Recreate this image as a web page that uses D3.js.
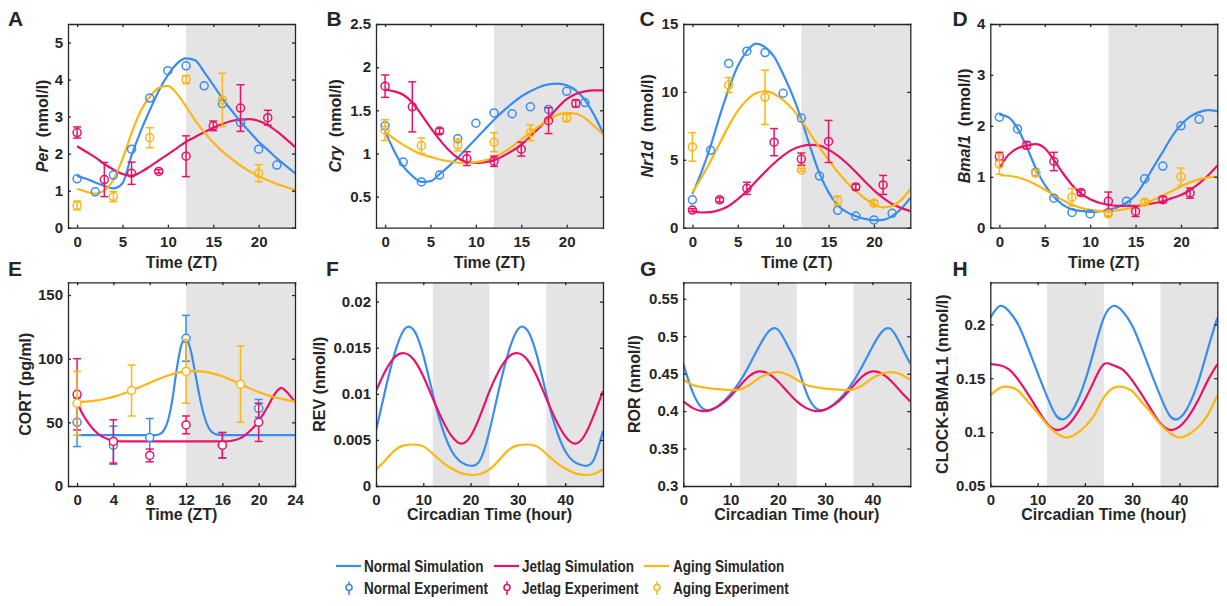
<!DOCTYPE html>
<html><head><meta charset="utf-8">
<script src="https://cdn.jsdelivr.net/npm/d3@7"></script>
<style>
body{margin:0;background:#fff}
svg{display:block}
text{font-family:Arial,"Liberation Sans",Helvetica,sans-serif;font-weight:bold;fill:#262626}
</style>
</head><body>
<svg id="chart" width="1227" height="606"></svg>
<script>
// ---------------- DATA ----------------
const hoursDay = [0,1,2,3,4,5,6,7,8,9,10,11,12,13,14,15,16,17,18,19,20,21,22,23,24];
const hoursTwoDays = [0,2,4,6,8,10,12,14,16,18,20,22,24,26,28,30,32,34,36,38,40,42,44,46,48];
const cortHalfHours = [0,0.5,1,1.5,2,2.5,3,3.5,4,4.5,5,5.5,6,6.5,7,7.5,8,8.5,9,9.5,10,10.5,11,11.5,12,12.5,13,13.5,14,14.5,15,15.5,16,16.5,17,17.5,18,18.5,19,19.5,20,20.5,21,21.5,22,22.5,23,23.5,24];

// tick values
const dayTicks = [0,5,10,15,20];
const cortTimeTicks = [0,4,8,12,16,20,24];
const circadianTicks = [0,10,20,30,40];
const perTicks = [0,1,2,3,4,5];
const cryTicks = [0.5,1,1.5,2,2.5];
const nr1dTicks = [0,5,10,15];
const bmalTicks = [0,1,2,3,4];
const cortTicks = [0,50,100,150];
const revTicks = [0,0.005,0.01,0.015,0.02];
const rorTicks = [0.3,0.35,0.4,0.45,0.5,0.55];
const clockTicks = [0.05,0.1,0.15,0.2];

// A: Per
const perNormalSim = [1.40,1.32,1.22,1.13,1.06,1.20,1.95,2.60,3.17,3.70,4.12,4.43,4.57,4.52,4.20,3.85,3.49,3.17,2.86,2.59,2.32,2.10,1.87,1.67,1.47];
const perJetlagSim = [2.20,2.05,1.90,1.72,1.57,1.45,1.40,1.50,1.65,1.82,1.98,2.15,2.32,2.45,2.58,2.70,2.80,2.88,2.92,2.93,2.88,2.77,2.60,2.40,2.18];
const perAgingSim  = [1.05,0.97,0.92,1.00,1.30,1.85,2.55,3.15,3.53,3.78,3.83,3.62,3.27,2.90,2.58,2.30,2.06,1.86,1.68,1.52,1.39,1.28,1.18,1.10,1.02];
const perNormalExpT = [0,2,4,6,8,10,12,14,16,18,20,22];
const perNormalExpV = [1.32,0.97,1.42,2.12,3.50,4.24,4.37,3.83,3.35,2.84,2.12,1.69];
const perJetlagExpT = [0,3,6,9,12,15,18,21];
const perJetlagExpV = [2.57,1.30,1.47,1.52,1.93,2.75,3.23,2.97];
const perJetlagExpE = [0.15,0.46,0.30,0.05,0.55,0.13,0.63,0.20];
const perAgingExpT = [0,4,8,12,16,20];
const perAgingExpV = [0.60,0.84,2.43,4.00,3.45,1.47];
const perAgingExpE = [0.12,0.14,0.27,0.11,0.72,0.23];

// B: Cry
const cryNormalSim = [1.26,1.03,0.85,0.74,0.67,0.68,0.76,0.85,0.95,1.06,1.17,1.28,1.39,1.49,1.58,1.66,1.72,1.77,1.80,1.81,1.79,1.73,1.62,1.45,1.24];
const cryJetlagSim = [1.74,1.72,1.68,1.59,1.45,1.30,1.16,1.04,0.95,0.90,0.89,0.90,0.92,0.97,1.03,1.10,1.20,1.30,1.41,1.53,1.63,1.69,1.72,1.73,1.73];
const cryAgingSim  = [1.25,1.17,1.10,1.04,0.99,0.96,0.93,0.91,0.895,0.89,0.90,0.92,0.96,1.01,1.08,1.16,1.24,1.32,1.39,1.45,1.47,1.46,1.41,1.32,1.22];
const cryNormalExpT = [0,2,4,6,8,10,12,14,16,18,20,22];
const cryNormalExpV = [1.32,0.90,0.67,0.75,1.17,1.35,1.47,1.46,1.54,1.51,1.72,1.59];
const cryJetlagExpT = [0,3,6,9,12,15,18,21];
const cryJetlagExpV = [1.78,1.54,1.26,0.94,0.91,1.05,1.38,1.58];
const cryJetlagExpE = [0.13,0.29,0.03,0.08,0.06,0.08,0.15,0.04];
const cryAgingExpT = [0,4,8,12,16,20];
const cryAgingExpV = [1.27,1.09,1.10,1.13,1.24,1.41];
const cryAgingExpE = [0.12,0.09,0.07,0.11,0.09,0.04];

// C: Nr1d
const nr1dNormalSim = [2.5,4.1,6.0,8.2,10.2,11.9,13.0,13.55,13.3,12.6,11.3,9.8,8.0,5.9,4.0,2.6,1.65,1.15,0.85,0.65,0.55,0.58,0.85,1.4,2.2];
const nr1dJetlagSim = [1.2,1.12,1.15,1.3,1.6,2.1,2.7,3.4,4.1,4.75,5.3,5.75,6.0,6.1,6.05,5.75,5.3,4.75,4.1,3.4,2.75,2.2,1.75,1.45,1.22];
const nr1dAgingSim  = [2.6,3.7,4.9,6.2,7.5,8.6,9.4,9.9,10.05,9.85,9.4,8.75,7.9,6.9,5.9,5.0,4.1,3.35,2.7,2.15,1.73,1.5,1.6,2.05,2.85];
const nr1dNormalExpT = [0,2,4,6,8,10,12,14,16,18,20,22];
const nr1dNormalExpV = [2.05,5.70,12.1,13.0,12.9,9.9,8.07,3.8,1.28,0.86,0.57,1.06];
const nr1dJetlagExpT = [0,3,6,9,12,15,18,21];
const nr1dJetlagExpV = [1.3,2.05,2.9,6.3,5.05,6.35,3.0,3.15];
const nr1dJetlagExpE = [0.1,0.15,0.45,1.0,0.45,1.55,0.2,0.7];
const nr1dAgingExpT = [0,4,8,12,16,20];
const nr1dAgingExpV = [5.95,10.5,9.6,4.25,2.0,1.8];
const nr1dAgingExpE = [1.05,0.55,2.0,0.1,0.33,0.2];

// D: Bmal1
const bmalNormalSim = [2.22,2.17,1.95,1.59,1.17,0.84,0.61,0.45,0.36,0.33,0.31,0.32,0.35,0.40,0.49,0.64,0.90,1.20,1.49,1.79,2.02,2.18,2.27,2.31,2.29];
const bmalJetlagSim = [1.17,1.43,1.56,1.61,1.64,1.56,1.33,1.07,0.84,0.67,0.56,0.49,0.45,0.43,0.43,0.43,0.45,0.48,0.52,0.58,0.64,0.74,0.87,1.03,1.22];
const bmalAgingSim  = [1.03,1.02,0.99,0.93,0.85,0.75,0.64,0.54,0.45,0.39,0.35,0.33,0.33,0.34,0.37,0.41,0.47,0.55,0.63,0.72,0.81,0.89,0.95,0.99,1.00];
const bmalNormalExpT = [0,2,4,6,8,10,12,14,16,18,20,22];
const bmalNormalExpV = [2.17,1.94,1.09,0.58,0.30,0.27,0.30,0.52,0.96,1.21,2.00,2.13];
const bmalJetlagExpT = [0,3,6,9,12,15,18,21];
const bmalJetlagExpV = [1.40,1.62,1.30,0.69,0.52,0.32,0.55,0.68];
const bmalJetlagExpE = [0.08,0.07,0.18,0.05,0.18,0.10,0.06,0.10];
const bmalAgingExpT = [0,4,8,12,16,20];
const bmalAgingExpV = [1.25,1.07,0.60,0.27,0.50,1.00];
const bmalAgingExpE = [0.20,0.06,0.17,0.04,0.05,0.17];

// E: CORT
const cortNormalSim = [40,40,40,40,40,40,40,40,40,40,40,40,40,40,40,40,40,40,40.5,43,51,68,93,111,116,107,89,70,55,45.5,41.5,40.3,40,40,40,40,40,40,40,40,40,40,40,40,40,40,40,40,40];
const cortJetlagSim = [66,58,52,47,43,40,38,36.5,35.5,35.2,35,35,35,35,35,35,35,35,35,35,35,35,35,35,35,35,35,35,35,35,35,35,35,35,35.5,36.3,37.6,40,43,46.5,51,56.5,62.5,69,74.5,77,74.5,70.5,66];
const cortAgingSim  = [66,66.3,67,68.3,70,72.3,75,78,81,84,86.8,88.8,90,90.3,89.8,88.3,86.2,83.3,80,76.8,73.8,71.3,69.3,67.7,66.5];
const cortNormalExpT = [0,4,8,12,16,20];
const cortNormalExpV = [50,32,38,116,32,61];
const cortNormalExpE = [19,15,15,18,10,7];
const cortJetlagExpT = [0,4,8,12,16,20];
const cortJetlagExpV = [72,35,24,48,32,50];
const cortJetlagExpE = [28,17,5,7,10,15];
const cortAgingExpT = [0,6,12,18];
const cortAgingExpV = [65,75,90,80];
const cortAgingExpE = [25,20,25,30];

// F: REV
const revNormalSim = [0.0060,0.0105,0.0145,0.0170,0.0169,0.0142,0.0100,0.0063,0.0038,0.0026,0.0022,0.0028,0.0060,0.0105,0.0145,0.0170,0.0169,0.0142,0.0100,0.0063,0.0038,0.0026,0.0022,0.0028,0.0060];
const revJetlagSim = [0.0103,0.0125,0.0140,0.0144,0.0137,0.0119,0.0095,0.0072,0.0054,0.0046,0.0054,0.0076,0.0103,0.0125,0.0140,0.0144,0.0137,0.0119,0.0095,0.0072,0.0054,0.0046,0.0054,0.0076,0.0103];
const revAgingSim  = [0.0018,0.0028,0.0039,0.0044,0.0045,0.0043,0.0035,0.0026,0.0019,0.0014,0.0012,0.0013,0.0018,0.0028,0.0039,0.0044,0.0045,0.0043,0.0035,0.0026,0.0019,0.0014,0.0012,0.0013,0.0018];

// G: ROR
const rorNormalSim = [0.463,0.425,0.404,0.402,0.410,0.423,0.440,0.462,0.486,0.506,0.509,0.488,0.462,0.425,0.404,0.402,0.410,0.423,0.440,0.462,0.486,0.506,0.509,0.488,0.463];
const rorJetlagSim = [0.413,0.404,0.400,0.402,0.409,0.420,0.434,0.447,0.453,0.450,0.440,0.426,0.413,0.404,0.400,0.402,0.409,0.420,0.434,0.447,0.453,0.450,0.440,0.426,0.413];
const rorAgingSim  = [0.442,0.435,0.432,0.430,0.429,0.428,0.429,0.435,0.444,0.450,0.452,0.449,0.442,0.435,0.432,0.430,0.429,0.428,0.429,0.435,0.444,0.450,0.452,0.449,0.442];

// H: CLOCK-BMAL1
const clockNormalSim = [0.206,0.217,0.212,0.199,0.178,0.155,0.133,0.115,0.113,0.125,0.147,0.177,0.206,0.217,0.212,0.199,0.178,0.155,0.133,0.115,0.113,0.125,0.147,0.177,0.206];
const clockJetlagSim = [0.163,0.162,0.158,0.148,0.135,0.121,0.108,0.102,0.105,0.115,0.130,0.148,0.163,0.162,0.158,0.148,0.135,0.121,0.108,0.102,0.105,0.115,0.130,0.148,0.163];
const clockAgingSim  = [0.134,0.141,0.142,0.138,0.128,0.118,0.107,0.099,0.095,0.098,0.105,0.116,0.132,0.141,0.142,0.138,0.128,0.118,0.107,0.099,0.095,0.098,0.105,0.116,0.134];

const legendSimLabels = ["Normal Simulation","Jetlag Simulation","Aging Simulation"];
const legendExpLabels = ["Normal Experiment","Jetlag Experiment","Aging Experiment"];
const seriesKeys = ["normal","jetlag","aging"];

// ---------------- STYLE / LAYOUT ----------------
const INK = "#262626";
const SHADE = "#E4E4E4";
const COL = {normal:"#3A8DF0", jetlag:"#EC1168", aging:"#FDB614"};
const PLOT_W = 227, PLOT_H = 203.7;
const LEFTS = [68, 376, 683.3, 990.3];
const TOPS = [24, 282.3];
const TICK_FONT = 15;

const svg = d3.select("#chart");

function sim(key, t, v){ return {key, t, v}; }
function exp(key, t, v, e){ return {key, t, v, e}; }

const panels = [
 {letter:"A", col:0,row:0, lx:8,   xDomain:[-1,24], xTicks:dayTicks, yDomain:[0,5.5], yTicks:perTicks, shade:[[12,24]],
  ital:"Per", unit:"(nmol/l)", yOff:25.5, xlabel:"Time (ZT)", curve:d3.curveMonotoneX, fill:"none",
  sims:[sim("normal",hoursDay,perNormalSim),sim("jetlag",hoursDay,perJetlagSim),sim("aging",hoursDay,perAgingSim)],
  exps:[exp("normal",perNormalExpT,perNormalExpV,null),exp("jetlag",perJetlagExpT,perJetlagExpV,perJetlagExpE),exp("aging",perAgingExpT,perAgingExpV,perAgingExpE)]},
 {letter:"B", col:1,row:0, lx:326.5, xDomain:[-1,24], xTicks:dayTicks, yDomain:[0.14,2.5], yTicks:cryTicks, shade:[[12,24]],
  ital:"Cry", unit:"(nmol/l)", yOff:41, xlabel:"Time (ZT)", curve:d3.curveMonotoneX, fill:"none",
  sims:[sim("normal",hoursDay,cryNormalSim),sim("jetlag",hoursDay,cryJetlagSim),sim("aging",hoursDay,cryAgingSim)],
  exps:[exp("normal",cryNormalExpT,cryNormalExpV,null),exp("jetlag",cryJetlagExpT,cryJetlagExpV,cryJetlagExpE),exp("aging",cryAgingExpT,cryAgingExpV,cryAgingExpE)]},
 {letter:"C", col:2,row:0, lx:639.5, xDomain:[-1,24], xTicks:dayTicks, yDomain:[0,15], yTicks:nr1dTicks, shade:[[12,24]],
  ital:"Nr1d", unit:"(nmol/l)", yOff:35.5, xlabel:"Time (ZT)", curve:d3.curveMonotoneX, fill:"none",
  sims:[sim("normal",hoursDay,nr1dNormalSim),sim("jetlag",hoursDay,nr1dJetlagSim),sim("aging",hoursDay,nr1dAgingSim)],
  exps:[exp("normal",nr1dNormalExpT,nr1dNormalExpV,null),exp("jetlag",nr1dJetlagExpT,nr1dJetlagExpV,nr1dJetlagExpE),exp("aging",nr1dAgingExpT,nr1dAgingExpV,nr1dAgingExpE)]},
 {letter:"D", col:3,row:0, lx:952.5, xDomain:[-1,24], xTicks:dayTicks, yDomain:[0,4], yTicks:bmalTicks, shade:[[12,24]],
  ital:"Bmal1", unit:"(nmol/l)", yOff:26, xlabel:"Time (ZT)", curve:d3.curveMonotoneX, fill:"none",
  sims:[sim("normal",hoursDay,bmalNormalSim),sim("jetlag",hoursDay,bmalJetlagSim),sim("aging",hoursDay,bmalAgingSim)],
  exps:[exp("normal",bmalNormalExpT,bmalNormalExpV,null),exp("jetlag",bmalJetlagExpT,bmalJetlagExpV,bmalJetlagExpE),exp("aging",bmalAgingExpT,bmalAgingExpV,bmalAgingExpE)]},
 {letter:"E", col:0,row:1, lx:8,   xDomain:[-1,24], xTicks:cortTimeTicks, yDomain:[0,160], yTicks:cortTicks, shade:[[12,24]],
  ital:null, unit:"CORT (pg/ml)", yOff:43, xlabel:"Time (ZT)", curve:d3.curveMonotoneX, fill:"#fff",
  sims:[sim("normal",cortHalfHours,cortNormalSim),sim("jetlag",cortHalfHours,cortJetlagSim),sim("aging",hoursDay,cortAgingSim)],
  exps:[exp("normal",cortNormalExpT,cortNormalExpV,cortNormalExpE),exp("jetlag",cortJetlagExpT,cortJetlagExpV,cortJetlagExpE),exp("aging",cortAgingExpT,cortAgingExpV,cortAgingExpE)]},
 {letter:"F", col:1,row:1, lx:326, xDomain:[0,48], xTicks:circadianTicks, yDomain:[0,0.0221], yTicks:revTicks, shade:[[12,24],[36,48]],
  ital:null, unit:"REV (nmol/l)", yOff:57, xlabel:"Circadian Time (hour)", curve:d3.curveNatural, fill:"none",
  sims:[sim("normal",hoursTwoDays,revNormalSim),sim("jetlag",hoursTwoDays,revJetlagSim),sim("aging",hoursTwoDays,revAgingSim)], exps:[]},
 {letter:"G", col:2,row:1, lx:640, xDomain:[0,48], xTicks:circadianTicks, yDomain:[0.3,0.572], yTicks:rorTicks, shade:[[12,24],[36,48]],
  ital:null, unit:"ROR (nmol/l)", yOff:48.5, xlabel:"Circadian Time (hour)", curve:d3.curveNatural, fill:"none",
  sims:[sim("normal",hoursTwoDays,rorNormalSim),sim("jetlag",hoursTwoDays,rorJetlagSim),sim("aging",hoursTwoDays,rorAgingSim)], exps:[]},
 {letter:"H", col:3,row:1, lx:952.5, xDomain:[0,48], xTicks:circadianTicks, yDomain:[0.05,0.239], yTicks:clockTicks, shade:[[12,24],[36,48]],
  ital:null, unit:"CLOCK-BMAL1 (nmol/l)", yOff:47.5, xlabel:"Circadian Time (hour)", curve:d3.curveNatural, fill:"none",
  sims:[sim("normal",hoursTwoDays,clockNormalSim),sim("jetlag",hoursTwoDays,clockJetlagSim),sim("aging",hoursTwoDays,clockAgingSim)], exps:[]}
];

function styleAxis(sel){
  sel.attr("font-size",TICK_FONT).attr("font-family",null).attr("color",INK);
  sel.selectAll("path").attr("stroke",INK).attr("stroke-width",1.3).attr("stroke-linecap","square");
  sel.selectAll("line").attr("stroke",INK).attr("stroke-width",1.3);
  sel.selectAll("text").attr("fill",INK).attr("font-weight","bold");
}

function drawPanel(p){
  const left = LEFTS[p.col], top = TOPS[p.row];
  const x = d3.scaleLinear().domain(p.xDomain).range([left, left+PLOT_W]);
  const y = d3.scaleLinear().domain(p.yDomain).range([top+PLOT_H, top]);
  const g = svg.append("g");
  const clipId = "clip"+p.letter;
  g.append("clipPath").attr("id",clipId).append("rect")
    .attr("x",left).attr("y",top).attr("width",PLOT_W).attr("height",PLOT_H);
  const body = g.append("g").attr("clip-path",`url(#${clipId})`);
  p.shade.forEach(([a,b]) => body.append("rect")
    .attr("x",x(a)).attr("y",top).attr("width",x(b)-x(a)).attr("height",PLOT_H).attr("fill",SHADE));
  const line = d3.line().x(d=>x(d[0])).y(d=>y(d[1])).curve(p.curve);
  p.sims.forEach(s => body.append("path")
    .datum(s.t.map((t,i)=>[t,s.v[i]]))
    .attr("d",line).attr("fill","none").attr("stroke",COL[s.key]).attr("stroke-width",2.2));

  p.exps.forEach(e => {
    const c = COL[e.key];
    const pts = e.t.map((t,i)=>({t, v:e.v[i], err: e.e ? e.e[i] : null}));
    const eg = g.append("g");
    pts.filter(d=>d.err!==null).forEach(d => {
      const y0 = y(d.v - d.err), y1 = y(d.v + d.err), xx = x(d.t);
      eg.append("line").attr("x1",xx).attr("x2",xx).attr("y1",y0).attr("y2",y1).attr("stroke",c).attr("stroke-width",1.5);
      [y0,y1].forEach(yy => eg.append("line").attr("x1",xx-4).attr("x2",xx+4).attr("y1",yy).attr("y2",yy).attr("stroke",c).attr("stroke-width",1.5));
    });
    eg.selectAll("circle").data(pts).join("circle")
      .attr("cx",d=>x(d.t)).attr("cy",d=>y(d.v)).attr("r",4)
      .attr("fill",p.fill).attr("stroke",c).attr("stroke-width",1.5);
  });

  const fmt = d => String(d);
  g.append("g").attr("transform",`translate(0,${top+PLOT_H})`)
    .call(d3.axisBottom(x).tickValues(p.xTicks).tickSizeInner(-3).tickSizeOuter(0).tickPadding(p.row===0 ? 9 : 8).tickFormat(fmt)).call(styleAxis);
  g.append("g").attr("transform",`translate(0,${top})`)
    .call(d3.axisTop(x).tickValues(p.xTicks).tickSizeInner(-3).tickSizeOuter(0).tickFormat("")).call(styleAxis);
  g.append("g").attr("transform",`translate(${left},0)`)
    .call(d3.axisLeft(y).tickValues(p.yTicks).tickSizeInner(-3).tickSizeOuter(0).tickPadding(5).tickFormat(fmt)).call(styleAxis);
  g.append("g").attr("transform",`translate(${left+PLOT_W},0)`)
    .call(d3.axisRight(y).tickValues(p.yTicks).tickSizeInner(-3).tickSizeOuter(0).tickFormat("")).call(styleAxis);

  // y label
  const lab = g.append("text")
    .attr("transform",`translate(${left-p.yOff},${top+PLOT_H/2}) rotate(-90)`)
    .attr("text-anchor","middle").attr("dy","0.35em").attr("font-size",16);
  if (p.ital){
    lab.append("tspan").attr("font-style","italic").text(p.ital);
    lab.append("tspan").attr("dx",9).text(p.unit);
  } else lab.text(p.unit);

  // x label
  g.append("text").attr("x",left+PLOT_W/2).attr("y", p.row===0 ? 267.5 : 520)
    .attr("text-anchor","middle").attr("font-size",16).text(p.xlabel);

  // panel letter
  g.append("text").attr("x",p.lx).attr("y", p.row===0 ? 25.5 : 275.5)
    .attr("font-size",21).text(p.letter);
}

panels.forEach(drawPanel);

// ---------------- LEGEND ----------------
const legendX = [336, 494, 644];
const legendTextX = [364, 522, 673];
const lg = svg.append("g");
function addLegendText(xx, yy, str){
  const t = lg.append("text").attr("x",xx).attr("y",yy).attr("font-size",16).text(str);
  const w = t.node().getComputedTextLength();
  t.attr("textLength", w*0.845).attr("lengthAdjust","spacingAndGlyphs");
}
seriesKeys.forEach((k,i) => {
  lg.append("line").attr("x1",legendX[i]).attr("x2",legendX[i]+25).attr("y1",566).attr("y2",566)
    .attr("stroke",COL[k]).attr("stroke-width",2.2);
  addLegendText(legendTextX[i], 572, legendSimLabels[i]);
  const mx = legendX[i] + 13;
  lg.append("line").attr("x1",mx).attr("x2",mx).attr("y1",581.5).attr("y2",595).attr("stroke",COL[k]).attr("stroke-width",1.6);
  lg.append("circle").attr("cx",mx).attr("cy",587.5).attr("r",3).attr("fill","#fff").attr("stroke",COL[k]).attr("stroke-width",1.6);
  addLegendText(legendTextX[i], 594, legendExpLabels[i]);
});
</script>
</body></html>
